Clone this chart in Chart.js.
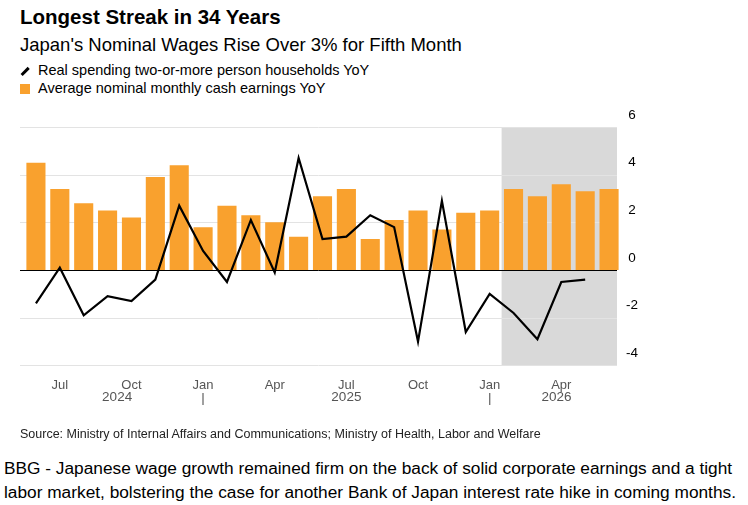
<!DOCTYPE html>
<html><head><meta charset="utf-8">
<script src="https://cdn.jsdelivr.net/npm/chart.js@4"></script>
<style>
body{margin:0;width:748px;height:505px;background:#fff;font-family:"Liberation Sans",Arial,sans-serif;color:#000;position:relative;overflow:hidden}
.t{position:absolute;left:20px;white-space:nowrap}
#c{position:absolute;left:0;top:105px}
.sw{display:inline-block;vertical-align:middle;margin-right:8px}
</style></head><body>
<div class="t" style="top:5px;font-size:20.5px;font-weight:bold">Longest Streak in 34 Years</div>
<div class="t" style="top:34px;font-size:18.5px">Japan's Nominal Wages Rise Over 3% for Fifth Month</div>
<div class="t" style="top:62px;font-size:14.5px"><span class="sw" style="width:10px;height:2.5px;background:#000;transform:rotate(-45deg)"></span>Real spending two-or-more person households YoY</div>
<div class="t" style="top:80px;font-size:14.5px"><span class="sw" style="width:10px;height:10px;background:#f9a12e"></span>Average nominal monthly cash earnings YoY</div>
<canvas id="c" width="660" height="327"></canvas>
<div class="t" style="top:427px;font-size:12.5px;color:#222">Source: Ministry of Internal Affairs and Communications; Ministry of Health, Labor and Welfare</div>
<div class="t" style="left:4px;top:456px;font-size:17.3px;line-height:24px">BBG - Japanese wage growth remained firm on the back of solid corporate earnings and a tight<br>labor market, bolstering the case for another Bank of Japan interest rate hike in coming months.</div>
<script>
const months=["Jun","Jul","Aug","Sep","Oct","Nov","Dec","Jan","Feb","Mar","Apr","May","Jun","Jul","Aug","Sep","Oct","Nov","Dec","Jan","Feb","Mar","Apr","May","Jun"];
const shownMonths=["Jul","Oct","Jan","Apr"];
const earnings=[4.5,3.4,2.8,2.5,2.2,3.9,4.4,1.8,2.7,2.3,2.0,1.4,3.1,3.4,1.3,2.1,2.5,1.7,2.4,2.5,3.4,3.1,3.6,3.3,3.4];
const spending=[-1.4,0.1,-1.9,-1.1,-1.3,-0.4,2.7,0.8,-0.5,2.1,-0.1,4.7,1.3,1.4,2.3,1.8,-3.0,2.9,-2.6,-1.0,-1.8,-2.9,-0.5,-0.4,null];
const yTicks=[6,4,2,0,-2,-4];
const years=[["2024",3.4],["2025",13],["2026",21.8]];
const yearSeps=[7,19];
const extra={id:'extra',
 beforeDatasetsDraw(ch){const {ctx,chartArea:a,scales:{x,y}}=ch;ctx.save();
  const L=a.left-4,R=a.right-4;
  const x0=(x.getPixelForValue(19)+x.getPixelForValue(20))/2;
  ctx.fillStyle='#d9d9d9';ctx.fillRect(x0,a.top,R-x0,a.bottom-a.top);
  ctx.strokeStyle='#e3e3e3';ctx.lineWidth=1;
  yTicks.forEach(v=>{const p=Math.round(y.getPixelForValue(v))+0.5;ctx.beginPath();ctx.moveTo(L,p);ctx.lineTo(R,p);ctx.stroke();});
  ctx.restore();},
 afterDatasetsDraw(ch){const {ctx,chartArea:a,scales:{x,y}}=ch;ctx.save();
  const L=a.left-4,R=a.right-4;
  ctx.strokeStyle='#000';ctx.lineWidth=1;const z=Math.round(y.getPixelForValue(0))+0.5;
  ctx.beginPath();ctx.moveTo(L,z);ctx.lineTo(R,z);ctx.stroke();
  ctx.fillStyle='#000';ctx.font='13.5px "Liberation Sans",Arial';ctx.textAlign='center';ctx.textBaseline='middle';
  yTicks.forEach(v=>ctx.fillText(String(v),R+15,y.getPixelForValue(v)-12));
  ctx.fillStyle='#555';
  const step=x.getPixelForValue(1)-x.getPixelForValue(0),b=x.getPixelForValue(0);
  years.forEach(([t,i])=>ctx.fillText(t,b+step*i,a.bottom+32));
  yearSeps.forEach(i=>ctx.fillText('|',b+step*i,a.bottom+33));
  ctx.restore();}};
new Chart(document.getElementById('c'),{
 data:{labels:months,datasets:[
  {type:'line',data:spending,borderColor:'#000',borderWidth:2.2,pointRadius:0,tension:0,order:0},
  {type:'bar',data:earnings,backgroundColor:'#f9a12e',barPercentage:0.8,categoryPercentage:1,order:1}]},
 options:{responsive:false,animation:false,events:[],
  layout:{padding:{left:24,right:31,top:22,bottom:35}},
  plugins:{legend:{display:false},tooltip:{enabled:false}},
  scales:{
   x:{grid:{display:false},border:{display:false},ticks:{autoSkip:false,maxRotation:0,color:'#555',font:{size:13,family:'"Liberation Sans",Arial'},padding:4,
     callback:(v,i)=>shownMonths.includes(months[i])?months[i]:''}},
   y:{position:'right',min:-4,max:6,grid:{display:false},border:{display:false},ticks:{display:false}}}},
 plugins:[extra]});
</script></body></html>
